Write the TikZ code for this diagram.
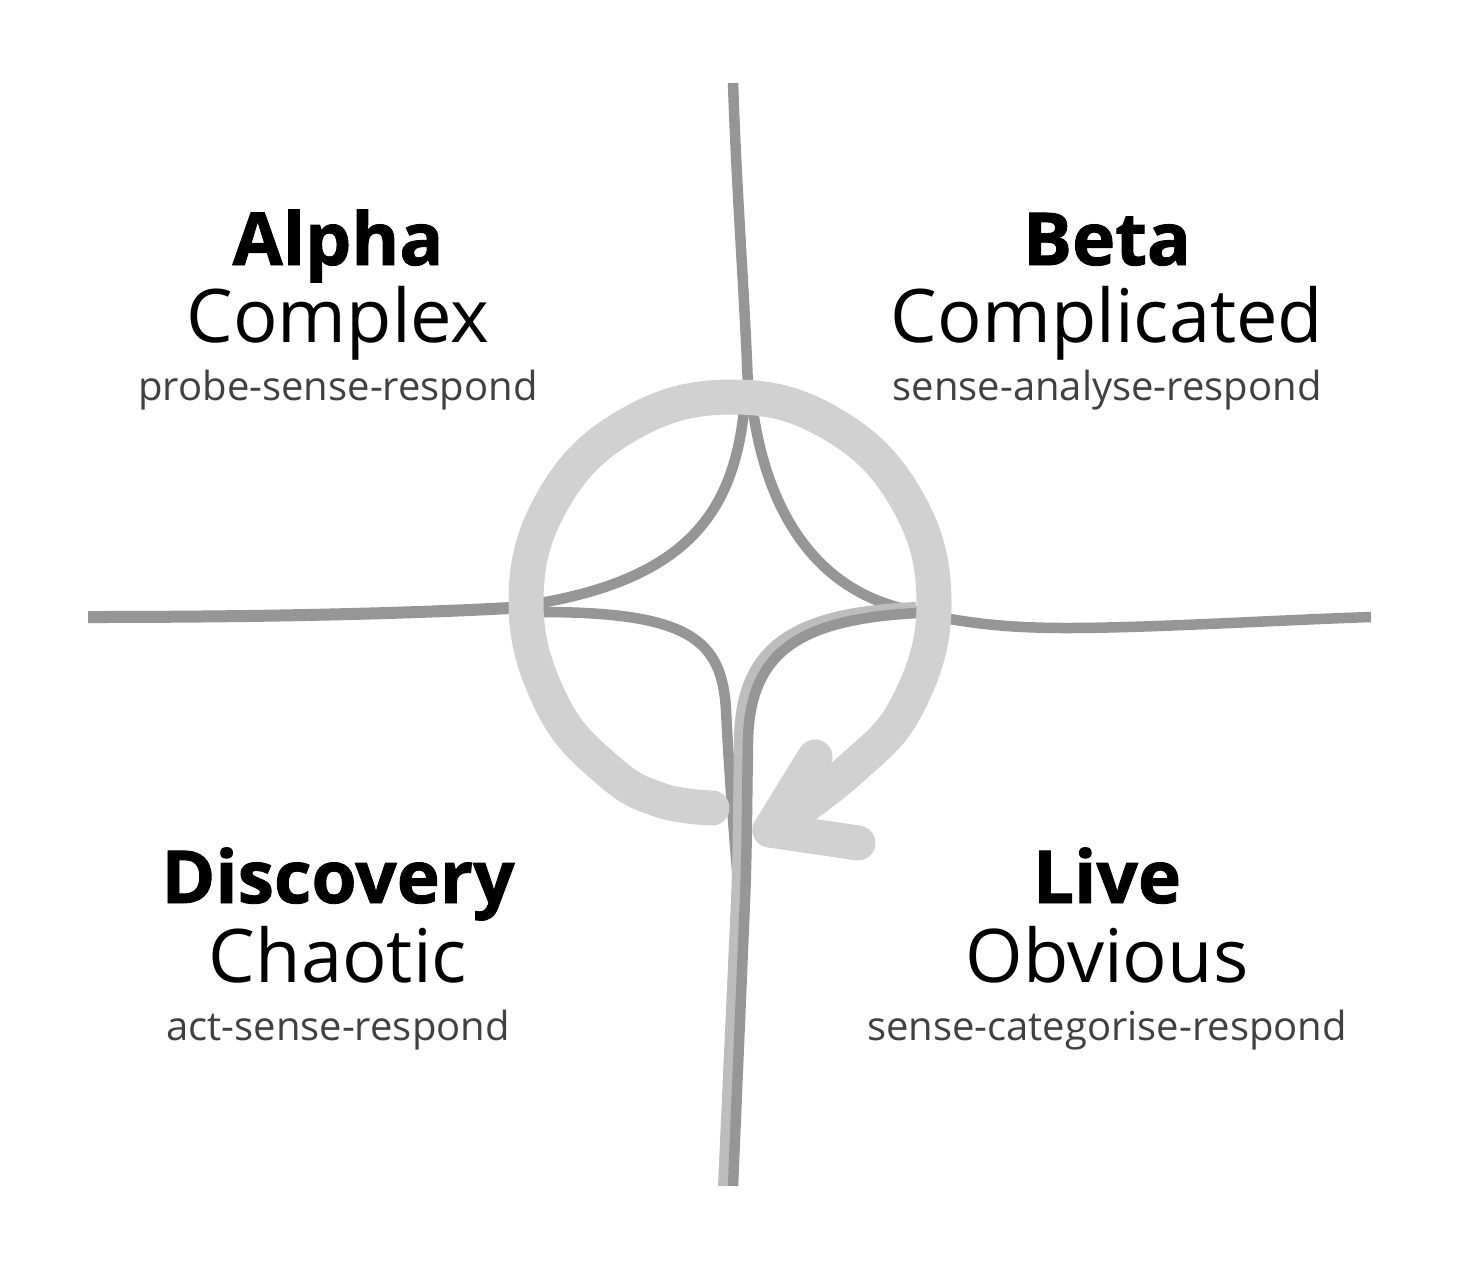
\documentclass[tikz,border=0pt]{standalone}
\usepackage{fontspec}
\setmainfont{Open Sans}[BoldFeatures={FakeBold=1.2}]
\definecolor{linegray}{HTML}{969696}
\definecolor{stripgray}{HTML}{BDBDBD}
\definecolor{ringgray}{HTML}{D1D1D1}
\definecolor{subgray}{HTML}{404040}
\begin{document}
\begin{tikzpicture}[x=1pt,y=-1pt,
  axisline/.style={draw=linegray, line width=10.5pt, line cap=butt},
  stripline/.style={draw=stripgray, line width=10pt, line cap=butt},
  ring/.style={draw=ringgray, line width=35pt, line cap=round, line join=round},
  headtxt/.style={anchor=base, inner sep=0pt, font=\fontsize{73}{80}\selectfont\bfseries},
  midtxt/.style={anchor=base, inner sep=0pt, font=\fontsize{74}{80}\selectfont},
  subtxt/.style={anchor=base, inner sep=0pt, text=subgray, font=\fontsize{40}{46}\selectfont}]
\path[use as bounding box, fill=white] (0,0) rectangle (1466,1278);

% axis lines
\draw[axisline] (733,83) .. controls (737,200) and (745,300) .. (748,388);
\draw[axisline, line width=12pt] (88,617) .. controls (300,617) and (450,612) .. (545,606);
\draw[axisline] (915,612) .. controls (960,622) and (1000,628) .. (1067,628) .. controls (1150,628) and (1280,620) .. (1371,617);
% cusps
\draw[axisline] (746,385) .. controls (740,500) and (700,575) .. (540,603);
\draw[axisline] (750,385) .. controls (760,500) and (810,595) .. (920,612);
\draw[axisline] (540,612) .. controls (690,612) and (722,640) .. (726,710) .. controls (729,770) and (733,820) .. (737,870);
\draw[stripline] (916,607) .. controls (795,612) and (740,645) .. (739,740) .. controls (738,800) and (738,850) .. (736,900) -- (723,1186);
\draw[axisline] (918,613) .. controls (802,619) and (750,650) .. (748,740) .. controls (747,800) and (747,850) .. (745,900) -- (733,1186);

% cycle ring
\draw[ring] plot[smooth, tension=0.7] coordinates {(712,808) (660,800) (610,772) (553,706) (526,603) (553,500) (628,425) (731,397) (832,424) (907,500) (934,603) (908,704) (850,770) (770,830)};
\draw[ring] (815,757) -- (770,830) -- (858,843);

% labels
\node[headtxt] (alpha) at (338,265) {Alpha};
\node[midtxt] (complex) at (338,342) {Complex};
\node[subtxt] (probe) at (338,400) {probe-sense-respond};
\node[headtxt] (beta) at (1107,265) {Beta};
\node[midtxt] (complicated) at (1107,342) {Complicated};
\node[subtxt] (analyse) at (1107,400) {sense-analyse-respond};
\node[headtxt] (discovery) at (338,903) {Discovery};
\node[midtxt] (chaotic) at (338,982) {Chaotic};
\node[subtxt] (act) at (338,1040) {act-sense-respond};
\node[headtxt] (live) at (1107,903) {Live};
\node[midtxt] (obvious) at (1107,982) {Obvious};
\node[subtxt] (categorise) at (1107,1040) {sense-categorise-respond};
\end{tikzpicture}
\end{document}
